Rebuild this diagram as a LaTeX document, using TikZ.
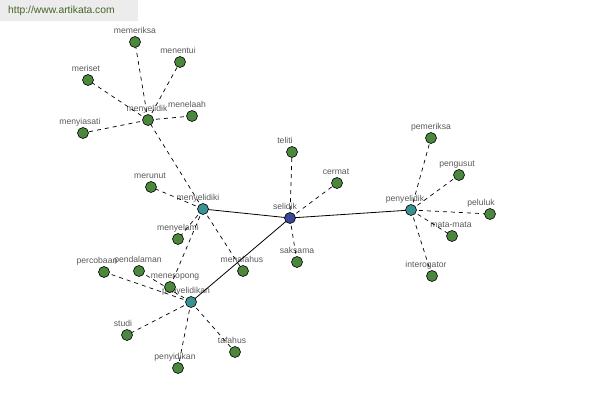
\documentclass[tikz,border=0pt]{standalone}
\usepackage{fontspec}
\setmainfont{Liberation Sans}
\definecolor{leafgreen}{RGB}{76,136,60}
\definecolor{hubteal}{RGB}{58,146,146}
\definecolor{rootblue}{RGB}{58,70,150}
\definecolor{lblgray}{RGB}{90,90,90}
\definecolor{wmfill}{RGB}{236,236,236}
\definecolor{wmtext}{RGB}{70,100,40}
\pgfdeclarelayer{bglayer}
\pgfdeclarelayer{lbllayer}
\pgfdeclarelayer{edgelayer}
\pgfsetlayers{bglayer,lbllayer,edgelayer,main}
\tikzset{
  dot/.style={circle, draw=black, line width=0.6pt, minimum size=11pt, inner sep=0pt},
  leaf/.style={dot, fill=leafgreen},
  hub/.style={dot, fill=hubteal},
  root/.style={dot, fill=rootblue},
  lbl/.style={anchor=base, inner sep=0pt, text=lblgray, font=\fontsize{8.6pt}{9pt}\selectfont},
  solidedge/.style={draw=black, line width=0.8pt},
  dashedge/.style={draw=black, line width=0.7pt, dash pattern=on 4pt off 4pt},
}
\newcommand\wnode[6]{%
  \node[#6] (#1) at (#2,#3) {};
  \begin{pgfonlayer}{lbllayer}
  \node[lbl] (#1-l) at (#2+#5,#3-8.5) {#4};
  \end{pgfonlayer}}
\begin{document}
\begin{tikzpicture}[x=1pt,y=-1pt]
\useasboundingbox (0,0) rectangle (600,400);
\begin{pgfonlayer}{bglayer}
\fill[white] (0,0) rectangle (600,400);
\node[fill=wmfill, minimum width=138pt, minimum height=21pt, anchor=north west, inner sep=0pt] (wm) at (0,0) {};
\node[anchor=west, text=wmtext, font=\fontsize{10.3pt}{12pt}\selectfont, inner sep=0pt] (wmt) at (8,10.5) {http://www.artikata.com};
\end{pgfonlayer}
% hubs
\wnode{selidik}{290}{218}{selidik}{-5}{root}
\wnode{menyelidiki}{203}{209}{menyelidiki}{-5}{hub}
\wnode{penyelidik}{411}{210}{penyelidik}{-6}{hub}
\wnode{penyelidikan}{191}{302}{penyelidikan}{-5}{hub}
\wnode{menyelidik}{148}{120}{menyelidik}{-1}{leaf}
% leaves
\wnode{memeriksa}{135}{42}{memeriksa}{0}{leaf}
\wnode{menentui}{180}{62}{menentui}{-2}{leaf}
\wnode{meriset}{88}{80}{meriset}{-2}{leaf}
\wnode{menelaah}{192}{116}{menelaah}{-5}{leaf}
\wnode{menyiasati}{83}{133}{menyiasati}{-3}{leaf}
\wnode{merunut}{151}{187}{merunut}{-1}{leaf}
\wnode{menyelami}{178}{239}{menyelami}{0}{leaf}
\wnode{meneropong}{170}{287}{meneropong}{5}{leaf}
\wnode{pendalaman}{139}{271}{pendalaman}{-1}{leaf}
\wnode{percobaan}{104}{272}{percobaan}{-7}{leaf}
\wnode{menafahus}{243}{271}{menafahus}{-1}{leaf}
\wnode{studi}{127}{335}{studi}{-4}{leaf}
\wnode{penyidikan}{178}{368}{penyidikan}{-3}{leaf}
\wnode{tafahus}{235}{352}{tafahus}{-3}{leaf}
\wnode{teliti}{292}{152}{teliti}{-7}{leaf}
\wnode{cermat}{337}{183}{cermat}{-1}{leaf}
\wnode{saksama}{297}{262}{saksama}{0}{leaf}
\wnode{pemeriksa}{431}{138}{pemeriksa}{0}{leaf}
\wnode{pengusut}{459}{175}{pengusut}{-2}{leaf}
\wnode{peluluk}{490}{214}{peluluk}{-9}{leaf}
\wnode{matamata}{452}{236}{mata-mata}{-1}{leaf}
\wnode{interogator}{432}{276}{interogator}{-6}{leaf}
\begin{pgfonlayer}{edgelayer}
\draw[solidedge] (selidik.center) -- (menyelidiki.center);
\draw[solidedge] (selidik.center) -- (penyelidik.center);
\draw[solidedge] (selidik.center) -- (penyelidikan.center);
\foreach \t in {teliti,cermat,saksama}
  \draw[dashedge] (selidik.center) -- (\t.center);
\foreach \t in {pemeriksa,pengusut,peluluk,matamata,interogator}
  \draw[dashedge] (penyelidik.center) -- (\t.center);
\foreach \t in {menyelidik,merunut,menyelami,meneropong,menafahus}
  \draw[dashedge] (menyelidiki.center) -- (\t.center);
\foreach \t in {memeriksa,menentui,meriset,menelaah,menyiasati}
  \draw[dashedge] (menyelidik.center) -- (\t.center);
\foreach \t in {percobaan,pendalaman,studi,penyidikan,tafahus}
  \draw[dashedge] (penyelidikan.center) -- (\t.center);
\end{pgfonlayer}
\end{tikzpicture}
\end{document}
